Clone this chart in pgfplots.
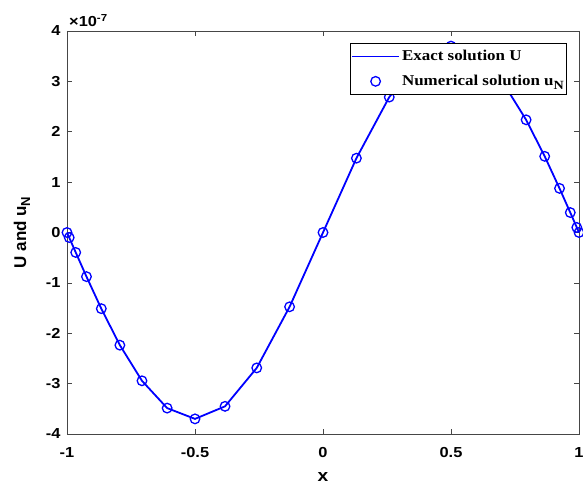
\documentclass[border=0pt]{standalone}
\usepackage{graphicx}
\usepackage{pgfplots}
\pgfplotsset{compat=1.18}
\usepackage{fontspec}
\setmainfont{Liberation Sans}
\newfontfamily\serifb{Liberation Serif}
\definecolor{mblue}{RGB}{0,0,255}
\definecolor{frame}{RGB}{70,70,70}
\newcommand\sx[1]{\scalebox{1.13}[1]{#1}}
\pgfplotsset{
  linelegend/.style={legend image code/.code={\draw[mblue, line width=1.8pt] (0pt,0pt) -- (47pt,0pt);}},
  marklegend/.style={legend image code/.code={\draw[mblue, line width=1.3pt] (23.5pt,0pt) circle[radius=4.8pt];}},
}
\begin{document}
\begin{tikzpicture}
\pgfplotstableread{
x y
-1 0
-0.9914 -0.100e-7
-0.9659 -0.396e-7
-0.9239 -0.876e-7
-0.8660 -1.512e-7
-0.7934 -2.237e-7
-0.7071 -2.944e-7
-0.6088 -3.486e-7
-0.5 -3.700e-7
-0.3827 -3.451e-7
-0.2588 -2.688e-7
-0.1305 -1.475e-7
0 0
0.1305 1.475e-7
0.2588 2.688e-7
0.3827 3.451e-7
0.5 3.700e-7
0.6088 3.486e-7
0.7071 2.944e-7
0.7934 2.237e-7
0.8660 1.512e-7
0.9239 0.876e-7
0.9659 0.396e-7
0.9914 0.100e-7
1 0
}\data
\begin{axis}[
  scale only axis, width=512pt, height=403pt,
  xmin=-1, xmax=1, ymin=-4e-7, ymax=4e-7,
  xtick={-1,-0.5,0,0.5,1},
  xticklabels={\sx{-1},\sx{-0.5},\sx{0},\sx{0.5},\sx{1}},
  ytick={-4e-7,-3e-7,-2e-7,-1e-7,0,1e-7,2e-7,3e-7,4e-7},
  yticklabels={\sx{-4},\sx{-3},\sx{-2},\sx{-1},\sx{0},\sx{1},\sx{2},\sx{3},\sx{4}},
  scaled y ticks=false,
  tick align=inside, major tick length=5pt,
  axis line style={frame, line width=0.9pt},
  every tick/.style={frame, line width=0.7pt},
  ticklabel style={font=\bfseries\fontsize{14.5}{14.5}\selectfont},
  yticklabel style={xshift=-3pt},
  xticklabel style={yshift=-10pt},
  xlabel={\sx{x}}, ylabel={U and u\raisebox{-0.45ex}{\fontsize{13}{13}\selectfont N}},
  every axis x label/.style={at={(rel axis cs:0.5,0)}, anchor=center, yshift=-43pt, font=\bfseries\fontsize{17}{17}\selectfont},
  every axis y label/.style={at={(rel axis cs:0,0.5)}, rotate=90, anchor=center, yshift=45pt, font=\bfseries\fontsize{17}{17}\selectfont},
  legend style={at={(0.977,0.970)}, anchor=north east, draw=black, line width=0.8pt,
    font=\serifb\bfseries\fontsize{15}{15}\selectfont, inner xsep=1pt, inner ysep=6pt, row sep=11pt,
    nodes={inner xsep=2pt, inner ysep=1pt}},
  legend cell align=left,
  clip=false,
]
\addplot[mblue, line width=1.8pt, linelegend] table[x=x,y=y] {\data};
\addlegendentry{\sx{Exact solution U}}
\addplot[mblue, only marks, mark=o, mark size=4.8pt, line width=1.3pt, marklegend] table[x=x,y=y] {\data};
\addlegendentry{\sx{Numerical solution u\raisebox{-0.5ex}{\fontsize{12.5}{12.5}\selectfont N}}}
\node[anchor=south west, inner sep=0pt, font=\fontsize{14.5}{14.5}\selectfont\bfseries] at ([xshift=2pt,yshift=4pt]rel axis cs:0,1) {\sx{×10\textsuperscript{-7}}};
\coordinate (sw) at (rel axis cs:0,0);
\coordinate (ne) at (rel axis cs:1,1);
\end{axis}
\pgfresetboundingbox
\path ([xshift=-67pt,yshift=-57pt]sw) rectangle ([xshift=4pt,yshift=31pt]ne);
\end{tikzpicture}
\end{document}
